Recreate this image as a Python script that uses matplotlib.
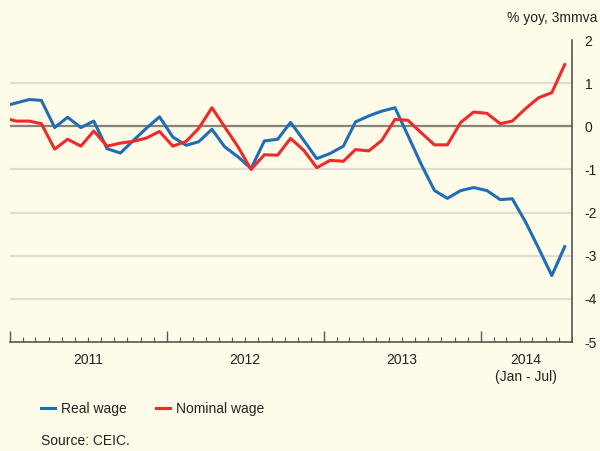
import numpy as np
import pandas as pd
import matplotlib
matplotlib.use('Agg')
import matplotlib.pyplot as plt
import matplotlib.dates as mdates

plt.rcParams['font.family'] = ['Liberation Sans', 'DejaVu Sans']
plt.rcParams['axes.unicode_minus'] = False

# monthly data, Dec 2010 - Jul 2014 (% yoy, 3mmva)
months = pd.date_range('2010-12-01', '2014-07-01', freq='MS') + pd.Timedelta(days=14)
real_wage = [0.46, 0.54, 0.62, 0.60, -0.03, 0.21, -0.03, 0.12, -0.52, -0.62,
             -0.33, -0.04, 0.22, -0.25, -0.44, -0.36, -0.07, -0.48, -0.71, -0.98,
             -0.34, -0.30, 0.09, -0.33, -0.75, -0.63, -0.46, 0.10, 0.24, 0.35,
             0.43, -0.21, -0.88, -1.49, -1.67, -1.49, -1.42, -1.49, -1.70, -1.68,
             -2.22, -2.82, -3.46, -2.79]
nominal_wage = [0.20, 0.12, 0.12, 0.06, -0.53, -0.30, -0.46, -0.11, -0.46, -0.39,
                -0.35, -0.27, -0.12, -0.46, -0.35, -0.05, 0.43, -0.02, -0.48, -1.00,
                -0.66, -0.67, -0.28, -0.56, -0.96, -0.79, -0.81, -0.54, -0.57, -0.33,
                0.16, 0.14, -0.15, -0.43, -0.43, 0.09, 0.33, 0.30, 0.06, 0.12,
                0.41, 0.66, 0.78, 1.43]
year_labels = ['2011', '2012', '2013', '2014\n(Jan - Jul)']
year_mid = pd.to_datetime(['2011-07-01', '2012-07-01', '2013-07-01', '2014-04-16'])

bg = '#fefbe9'
txt = '#222222'
blue = '#1f6db5'
red = '#ee2a2a'

fig = plt.figure(figsize=(6, 4.51), dpi=100, facecolor=bg)
ax = fig.add_axes([10/600, 109/451, 562/600, 302/451], facecolor=bg)

for v in range(-4, 2):
    ax.axhline(v, color='#dedcd4', lw=1.6, zorder=1)
ax.axhline(0, color='#85847a', lw=1.6, zorder=2)

ax.plot(months, real_wage, color=blue, lw=2.2, label='Real wage', zorder=3)
ax.plot(months, nominal_wage, color=red, lw=2.2, label='Nominal wage', zorder=3)

ax.set_xlim(pd.Timestamp('2011-01-01'), pd.Timestamp('2014-08-01'))
ax.set_ylim(-5, 2)

for s in ['left', 'top']:
    ax.spines[s].set_visible(False)
for s in ['right', 'bottom']:
    ax.spines[s].set_color('#555555')
    ax.spines[s].set_linewidth(1.2)

ax.yaxis.tick_right()
ax.set_yticks(range(-5, 3))
ax.tick_params(axis='y', length=0, pad=9, labelsize=10, labelcolor=txt)

ax.xaxis.set_major_locator(mdates.YearLocator())
ax.xaxis.set_minor_locator(mdates.MonthLocator())
ax.xaxis.set_major_formatter(plt.NullFormatter())
ax.tick_params(axis='x', which='major', direction='in', length=8, width=1, color='#555555')
ax.tick_params(axis='x', which='minor', direction='in', length=3.5, width=0.8, color='#555555')

trans = ax.get_xaxis_transform()
for d, lab in zip(year_mid, year_labels):
    ax.text(d, -0.035, lab, transform=trans, ha='center', va='top',
            fontsize=10, color=txt, linespacing=1.3)

fig.text(597/600, 1 - 18/451, '% yoy, 3mmva', ha='right', va='center',
         fontsize=10, color=txt)

ax.legend(loc='center left', bbox_to_anchor=(41/600, 1 - 409/451),
          bbox_transform=fig.transFigure, ncol=2, frameon=False,
          handlelength=1.0, handletextpad=0.45, columnspacing=2.1,
          borderpad=0, borderaxespad=0, fontsize=10, labelcolor=txt)

fig.text(41/600, 1 - 441/451, 'Source: CEIC.', ha='left', va='center',
         fontsize=10, color=txt)

fig.savefig('out.png', dpi=100, facecolor=bg)
